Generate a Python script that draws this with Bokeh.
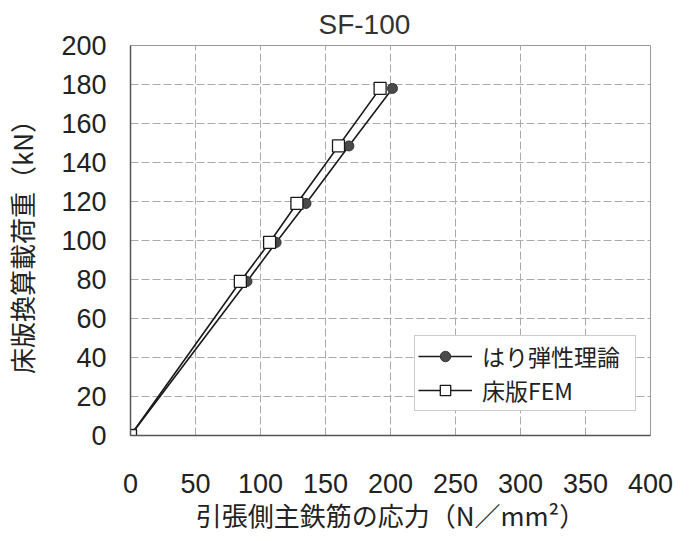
from bokeh.plotting import figure
from bokeh.models import Range1d, FixedTicker, Legend, LegendItem
from bokeh.embed import file_html
from bokeh.resources import INLINE

# data
load_kn = [0, 79, 99, 119, 148.5, 178]
stress_beam = [0, 89.6, 112, 135, 168, 201.5]
stress_fem = [0, 84.5, 107, 128, 160, 192]
x_ticks = [0, 50, 100, 150, 200, 250, 300, 350, 400]
y_ticks = [0, 20, 40, 60, 80, 100, 120, 140, 160, 180, 200]
series_names = ["はり弾性理論", "床版FEM"]

TICK_FONT = "Liberation Sans"
CJK_FONT = "Noto Sans CJK JP"

p = figure(width=679, height=535, output_backend="svg", toolbar_location=None,
           x_range=Range1d(0, 400), y_range=Range1d(0, 200),
           min_border_left=120, min_border_right=29, min_border_top=45, min_border_bottom=90,
           title="SF-100")

p.title.align = "left"
p.title.offset = 188
p.title.text_font = TICK_FONT
p.title.text_font_size = "28px"
p.title.text_font_style = "normal"
p.title.text_color = "#333333"
p.title.standoff = 12

p.outline_line_color = "#999999"
p.outline_line_width = 1
p.background_fill_color = "white"
p.border_fill_color = "white"

for ax in (p.xaxis[0], p.yaxis[0]):
    ax.major_tick_line_color = None
    ax.minor_tick_line_color = None
    ax.major_tick_out = 0
    ax.major_tick_in = 0
    ax.axis_line_color = "#555555"
    ax.axis_line_width = 1.5
    ax.major_label_text_font = TICK_FONT
    ax.major_label_text_font_size = "27px"
    ax.major_label_text_color = "#222222"
    ax.axis_label_text_font = CJK_FONT
    ax.axis_label_text_font_size = "26px"
    ax.axis_label_text_font_style = "normal"
    ax.axis_label_text_color = "#222222"

p.xaxis.ticker = FixedTicker(ticks=x_ticks)
p.yaxis.ticker = FixedTicker(ticks=y_ticks)
p.xaxis.major_label_standoff = 38
p.yaxis.major_label_standoff = 24
p.xaxis.axis_label = "引張側主鉄筋の応力（N／mm²）"
p.yaxis.axis_label = "床版換算載荷重（kN）"
p.xaxis.axis_label_standoff = 0
p.yaxis.axis_label_standoff = 18

p.xgrid.ticker = FixedTicker(ticks=x_ticks)
p.ygrid.ticker = FixedTicker(ticks=y_ticks)
for g in (p.xgrid[0], p.ygrid[0]):
    g.grid_line_color = "#aaaaaa"
    g.grid_line_width = 1
    g.grid_line_dash = "8 3"

l1 = p.line(stress_beam, load_kn, line_color="#1a1a1a", line_width=1.6)
s1 = p.scatter(stress_beam, load_kn, marker="circle", size=10,
               fill_color="#4a4a4a", line_color="#333333", line_width=1)
l2 = p.line(stress_fem, load_kn, line_color="#1a1a1a", line_width=1.6)
s2 = p.scatter(stress_fem, load_kn, marker="square", size=12,
               fill_color="white", line_color="#1a1a1a", line_width=1.3)

legend = Legend(items=[LegendItem(label=series_names[0], renderers=[l1, s1]),
                       LegendItem(label=series_names[1], renderers=[l2, s2])],
                location=(284, 24))
legend.label_text_font = CJK_FONT
legend.label_text_font_size = "23px"
legend.label_text_color = "#222222"
legend.glyph_width = 54
legend.glyph_height = 26
legend.label_standoff = 10
legend.label_height = 26
legend.label_width = 150
legend.spacing = 0
legend.padding = 3
legend.margin = 0
legend.border_line_color = "#999999"
legend.border_line_width = 1
legend.background_fill_color = "white"
legend.background_fill_alpha = 1
p.add_layout(legend, "center")

open("out.html", "w").write(file_html(p, INLINE))
